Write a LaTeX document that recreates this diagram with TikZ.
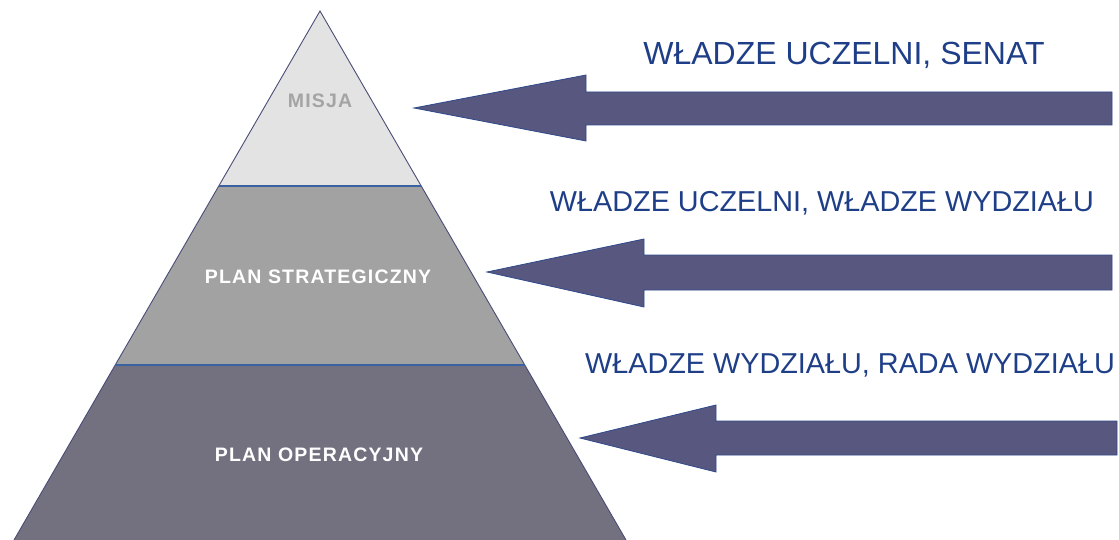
\documentclass[tikz,border=0pt]{standalone}
\usepackage{fontspec}
\setmainfont{Liberation Sans}
\newfontfamily\labelfont[LetterSpace=6]{Liberation Sans}
\definecolor{topg}{HTML}{E3E3E3}
\definecolor{midg}{HTML}{A2A2A2}
\definecolor{botg}{HTML}{73717F}
\definecolor{edgec}{HTML}{4A4C78}
\definecolor{divc}{HTML}{3A62A0}
\definecolor{arrowf}{HTML}{58577F}
\definecolor{arrowd}{HTML}{2E4A8C}
\definecolor{txtc}{HTML}{1E3E88}
\definecolor{misjac}{HTML}{A4A4A4}
\begin{document}
\begin{tikzpicture}[x=1pt,y=-1pt,
  edge/.style={draw=edgec,line width=0.9pt,line join=miter},
  divider/.style={draw=divc,line width=1.4pt},
  blockarrow/.style={fill=arrowf,draw=arrowd,line width=0.8pt,line join=miter},
  authority/.style={text=txtc,anchor=base,inner sep=0pt},
  levellabel/.style={font=\labelfont\bfseries\fontsize{19.5}{24}\selectfont,inner sep=0pt}]
\useasboundingbox (0,0) rectangle (1119,540);
% pyramid corners
\coordinate (apex) at (320,11);
\coordinate (bl) at (14,540);
\coordinate (br) at (626,540);
\coordinate (l1) at (218.8,186);
\coordinate (r1) at (421.2,186);
\coordinate (l2) at (115.2,365);
\coordinate (r2) at (524.8,365);
% fills
\fill[botg] (l2) -- (r2) -- (br) -- (bl) -- cycle;
\fill[midg] (l1) -- (r1) -- (r2) -- (l2) -- cycle;
\fill[topg] (apex) -- (r1) -- (l1) -- cycle;
\draw[edge] (bl) -- (apex) -- (br);
\draw[divider] (l1) -- (r1);
\draw[divider] (l2) -- (r2);
% level labels
\node[levellabel,text=misjac] (misja) at (320,101) {MISJA};
\node[levellabel,text=white] (strat) at (318,277) {PLAN STRATEGICZNY};
\node[levellabel,text=white] (oper) at (319,455) {PLAN OPERACYJNY};
% arrows
\path[blockarrow] (414,108) -- (586,75) -- (586,92) -- (1112,92) -- (1112,125) -- (586,125) -- (586,141) -- cycle;
\path[blockarrow] (487,272) -- (644,239) -- (644,255) -- (1112,255) -- (1112,290) -- (644,290) -- (644,307) -- cycle;
\path[blockarrow] (580,438) -- (716,405) -- (716,421) -- (1117,421) -- (1117,455) -- (716,455) -- (716,472) -- cycle;
% authority texts
\node[authority,font=\fontsize{32}{36}\selectfont] (t1) at (844,65) {WŁADZE UCZELNI, SENAT};
\node[authority,font=\fontsize{28.8}{32}\selectfont] (t2) at (822,212) {WŁADZE UCZELNI, WŁADZE WYDZIAŁU};
\node[authority,font=\fontsize{28.8}{32}\selectfont] (t3) at (850,373) {WŁADZE WYDZIAŁU, RADA WYDZIAŁU};
\end{tikzpicture}
\end{document}
